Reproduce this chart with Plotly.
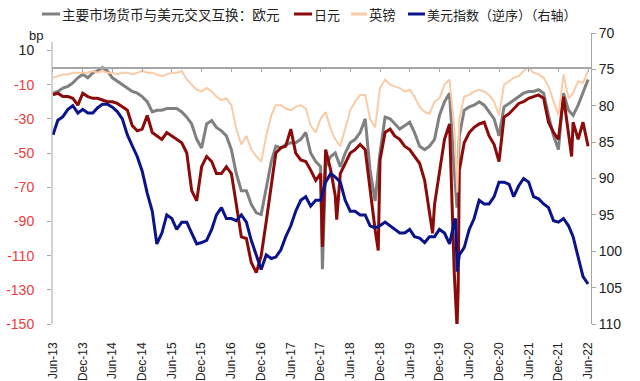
import pandas as pd
import plotly.graph_objects as go

# ---------------- data ----------------
months = pd.date_range("2013-06-01", "2022-06-01", freq="MS")

eur = [-15, -14, -12, -11, -9, -6, -4, -6, -3, -2, 0, -2,
       -6, -8, -10, -12, -14, -15, -17, -20, -26, -25, -25, -24,
       -24, -24, -26, -29, -33, -42, -47, -33, -31, -35, -37, -40,
       -48, -62, -72, -72, -80, -85, -86, -70, -55, -46, -47, -45,
       -44, -44, -42, -38, -50, -55, -58, -58, -52, -50, -58, -50,
       -44, -42, -38, -30, -60, -78, -50, -29, -30, -33, -36, -34,
       -32, -38, -46, -48, -46, -42, -28, -20, -15, -60, -40, -25,
       -23, -22, -20, -22, -26, -30, -40, -23, -21, -19, -17, -15,
       -14, -14, -13, -15, -28, -40, -48, -15, -25, -28, -22, -15, -7]

jpy = [-16, -15, -17, -17, -18, -22, -15, -17, -18, -18, -19, -20,
       -20, -21, -23, -25, -34, -37, -36, -28, -38, -40, -42, -38,
       -40, -42, -44, -50, -72, -78, -58, -52, -55, -62, -62, -58,
       -62, -80, -99, -100, -114, -120, -110, -90, -68, -50, -47, -46,
       -36, -50, -54, -55, -60, -66, -62, -48, -60, -75, -62, -56,
       -50, -48, -45, -48, -72, -95, -54, -38, -36, -40, -42, -46,
       -48, -52, -56, -66, -85, -80, -60, -42, -33, -120, -60, -44,
       -38, -35, -33, -32, -40, -45, -55, -29, -27, -24, -21, -20,
       -18, -17, -16, -18, -32, -38, -42, -17, -40, -32, -42, -32, -46]

gbp = [-6, -5, -4, -4, -3, -3, -3, -3, -2, -3, -2, -3,
       -3, -4, -3, -3, -4, -3, -2, -3, -3, -4, -5, -4,
       -3, -3, -2, -7, -10, -13, -14, -12, -14, -17, -19, -18,
       -22, -36, -45, -40, -48, -52, -55, -40, -28, -22, -22, -24,
       -25, -23, -22, -24, -34, -38, -30, -26, -36, -42, -46, -35,
       -25, -20, -16, -16, -30, -35, -12, -7, -10, -11, -12, -14,
       -13, -17, -23, -26, -27, -20, -18, -10, -7, -35, -30, -17,
       -16, -14, -13, -14, -16, -20, -28, -10, -8, -6, -5, -2,
       0, -3, -4, -6, -11, -20, -28, -4, -18, -15, -8, -9, -2]

dxy = [84, 82, 81.5, 80.5, 80, 81, 80.5, 81, 81, 80.3, 79.8, 79.8,
       80.2, 80.8, 81.8, 84, 85.5, 87, 89, 92, 94.5, 99, 97.5, 95,
       95.5, 97, 96, 96, 97.5, 99, 98.8, 98.5, 97, 95, 94, 95.5,
       95.5, 95.8, 95, 96, 98.5, 100.5, 102.5, 100.5, 101, 100.8, 99.8, 98,
       96.5, 94.5, 93, 92.5, 93.8, 93, 93, 90.5, 89.3, 89.8, 90.5, 93,
       94.5, 94.5, 95, 95, 96.5, 96.8, 96.5, 96, 96.5, 97, 97.5, 97.5,
       97, 98, 98.2, 98.8, 98, 98, 97, 97.5, 99, 96, 100.5, 99.5,
       97, 95.5, 93, 93.5, 93.5, 92.5, 90.5, 90.5, 90.8, 92.5, 91, 90,
       90.5, 92.5, 92.8, 93.5, 94, 95.8, 96, 95.5, 96.5, 98, 101, 103.5, 104.5]

# short-lived spikes
eur_spike_dates = ["2017-12-12", "2020-03-18"]
eur_spike_vals = [-118, -82]
jpy_spike_dates = ["2017-12-12", "2018-03-10", "2018-11-20", "2019-10-20", "2020-03-18", "2020-03-25", "2022-02-20"]
jpy_spike_vals = [-105, -89, -107, -97, -152, -130, -52]
gbp_spike_dates = ["2020-03-20"]
gbp_spike_vals = [-73]
dxy_spike_dates = ["2020-03-09", "2020-03-19"]
dxy_spike_vals = [95.5, 102.8]

names = ["主要市场货币与美元交叉互换：欧元", "日元", "英镑", "美元指数（逆序）（右轴）"]
colors = ["#808080", "#8B0A0A", "#F9CBA6", "#0A1389"]

left_ticks = [10, -10, -30, -50, -70, -90, -110, -130, -150]
right_ticks = [70, 75, 80, 85, 90, 95, 100, 105, 110]


def merge(vals, sd, sv):
    s = pd.concat([pd.Series(vals, index=months), pd.Series(sv, index=pd.to_datetime(sd))])
    return s.sort_index()


series = [merge(eur, eur_spike_dates, eur_spike_vals),
          merge(jpy, jpy_spike_dates, jpy_spike_vals),
          merge(gbp, gbp_spike_dates, gbp_spike_vals),
          merge(dxy, dxy_spike_dates, dxy_spike_vals)]

FONT = "Liberation Sans, Arial, Noto Sans CJK SC, sans-serif"
CJK = "Noto Sans CJK SC, sans-serif"
RED = "#EE3B3B"
AXC = "#A6A6A6"
W, H = 640, 381
ML, MR, MT, MB = 52, 49, 33, 57
PW, PH = W - ML - MR, H - MT - MB


def px(x):
    return (x - ML) / PW


def py(y):
    return (H - MB - y) / PH


fig = go.Figure()
widths = [3, 3, 2, 3]
for i, s in enumerate(series):
    fig.add_trace(go.Scatter(
        x=s.index, y=s.values, name=names[i], mode="lines",
        line=dict(color=colors[i], width=widths[i]),
        yaxis="y2" if i == 3 else "y", showlegend=False,
    ))

# helper trace so the zero-line axis (x2) is drawn
fig.add_trace(go.Scatter(x=[months[0]], y=[-300], xaxis="x2", yaxis="y",
                         mode="lines", showlegend=False, hoverinfo="skip"))

xr = ["2013-05-26", "2022-06-19"]
ticktext = [str(v) if v >= 0 else f'<span style="color:{RED}">{v}</span>' for v in left_ticks]

# manual legend (one row, like the original)
leg_line_x = [(42, 60), (294, 312), (351, 367), (408, 425)]
leg_text_x = [60, 312, 367, 425]
leg_size = [13.6, 13, 13.3, 13]
leg_y = 14
shapes = [dict(type="line", xref="paper", yref="y", x0=0, x1=0,
               y0=-150, y1=15, line=dict(color=AXC, width=1))]
annotations = [dict(text="bp", xref="paper", yref="paper",
                    x=px(27), y=py(26), showarrow=False,
                    font=dict(size=13, color="#222222"))]
for i in range(4):
    shapes.append(dict(type="line", xref="paper", yref="paper",
                       x0=px(leg_line_x[i][0]), x1=px(leg_line_x[i][1]),
                       y0=py(leg_y), y1=py(leg_y),
                       line=dict(color=colors[i], width=3)))
    annotations.append(dict(text=names[i], xref="paper", yref="paper",
                            x=px(leg_text_x[i]), y=py(leg_y),
                            xanchor="left", yanchor="middle", showarrow=False,
                            font=dict(size=leg_size[i], family=CJK, color="#222222")))

fig.update_layout(
    width=W, height=H,
    margin=dict(l=ML, r=MR, t=MT, b=MB, autoexpand=False),
    paper_bgcolor="white", plot_bgcolor="white",
    font=dict(family=FONT, size=13, color="#222222"),
    showlegend=False,
    xaxis=dict(type="date", range=xr, tick0="2013-06-01", dtick="M6",
               tickformat="%b-%y", tickangle=-90, showgrid=False,
               showline=False, ticks="", ticklabelstandoff=15,
               tickfont=dict(size=12, color="#222222")),
    xaxis2=dict(type="date", range=xr, overlaying="x", anchor="free",
                position=150 / 170.2, tick0="2013-06-01", dtick="M6",
                showline=True, linecolor=AXC, linewidth=1.5,
                ticks="outside", ticklen=4, tickcolor=AXC,
                showticklabels=False, showgrid=False, zeroline=False),
    yaxis=dict(range=[-150, 20.2], tickvals=left_ticks, ticktext=ticktext,
               showgrid=False, zeroline=False, showline=False,
               ticks="outside", ticklen=4, tickcolor=AXC,
               ticklabelstandoff=10,
               tickfont=dict(size=14, color="#222222")),
    yaxis2=dict(range=[110, 70], tickvals=right_ticks, overlaying="y",
                side="right", showgrid=False, zeroline=False,
                showline=True, linecolor=AXC, ticks="outside",
                ticklen=4, tickcolor=AXC,
                tickfont=dict(size=14, color="#222222")),
    shapes=shapes,
    annotations=annotations,
)

fig.write_html("out.html", config={"displayModeBar": False},
               post_script="document.body.style.margin='0';")
